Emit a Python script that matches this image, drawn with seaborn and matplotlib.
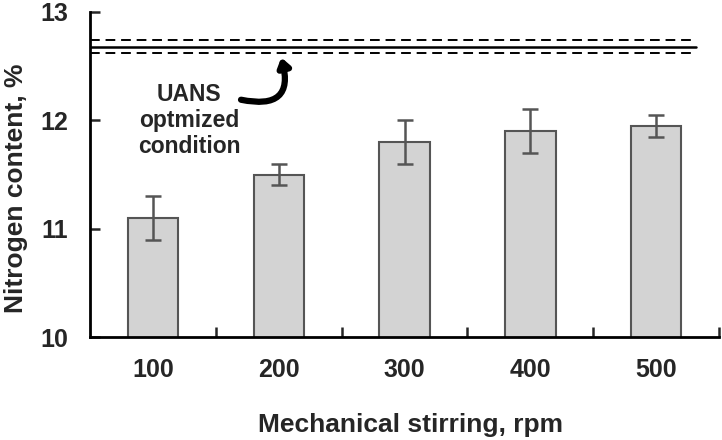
import matplotlib
matplotlib.use("Agg")
import matplotlib.pyplot as plt
import pandas as pd
import seaborn as sns

# Data
speeds = ["100", "200", "300", "400", "500"]
nitrogen = [11.1, 11.5, 11.8, 11.9, 11.95]
nitrogen_err = [0.2, 0.1, 0.2, 0.2, 0.1]
uans_mean = 12.68
uans_band = [12.62, 12.74]

df = pd.DataFrame({"speed": speeds, "nitrogen": nitrogen})

sns.set_style("ticks")
plt.rcParams["font.family"] = ["Liberation Sans", "DejaVu Sans"]
plt.rcParams["font.weight"] = "bold"

fig = plt.figure(figsize=(7.22, 4.40), dpi=100)
ax = fig.add_axes([0.1247, 0.234, 0.8713, 0.7388])

sns.barplot(data=df, x="speed", y="nitrogen", color="#d3d3d3", width=0.4,
            edgecolor="#555555", linewidth=1.5, saturation=1, errorbar=None, ax=ax)
ax.errorbar(range(len(speeds)), nitrogen, yerr=nitrogen_err, fmt="none",
            ecolor="#555555", elinewidth=1.8, capsize=6, capthick=1.8)

# UANS optimized condition reference band
ax.axhline(uans_mean, xmin=0, xmax=0.963, color="black", lw=1.8)
for v in uans_band:
    ax.axhline(v, xmin=0, xmax=0.963, color="black", lw=1.4, ls=(0, (5, 3)))

ax.annotate("", xy=(1.02, 12.58), xytext=(0.7, 12.19),
            arrowprops=dict(arrowstyle="-|>,head_length=0.5,head_width=0.35",
                            connectionstyle="arc3,rad=0.8", color="black", lw=4.5,
                            shrinkA=0, shrinkB=0))
ax.text(0.29, 12.0, "UANS\noptmized\ncondition", ha="center", va="center",
        fontsize=16.5, fontweight="bold", linespacing=1.15)

ax.set_ylim(10, 13)
ax.set_xlim(-0.5, 4.5)
ax.set_yticks([10, 11, 12, 13])
ax.set_xticks(range(len(speeds)))
ax.set_xticks([i + 0.5 for i in range(len(speeds))], minor=True)
ax.tick_params(axis="x", which="major", length=0, labelsize=18, pad=15)
ax.tick_params(axis="x", which="minor", direction="in", length=7, width=1.8)
ax.tick_params(axis="y", direction="in", length=7, width=1.8, labelsize=18, pad=16)
for lab in ax.get_xticklabels() + ax.get_yticklabels():
    lab.set_fontweight("bold")

ax.set_xlabel("Mechanical stirring, rpm", fontsize=19, fontweight="bold")
ax.set_ylabel("Nitrogen content, %", fontsize=19, fontweight="bold")
ax.xaxis.set_label_coords(0.51, -0.235)
ax.yaxis.set_label_coords(-0.099, 0.458)

sns.despine(ax=ax)
for s in ["left", "bottom"]:
    ax.spines[s].set_linewidth(2)
    ax.spines[s].set_color("black")

fig.savefig("out.png", dpi=100)
